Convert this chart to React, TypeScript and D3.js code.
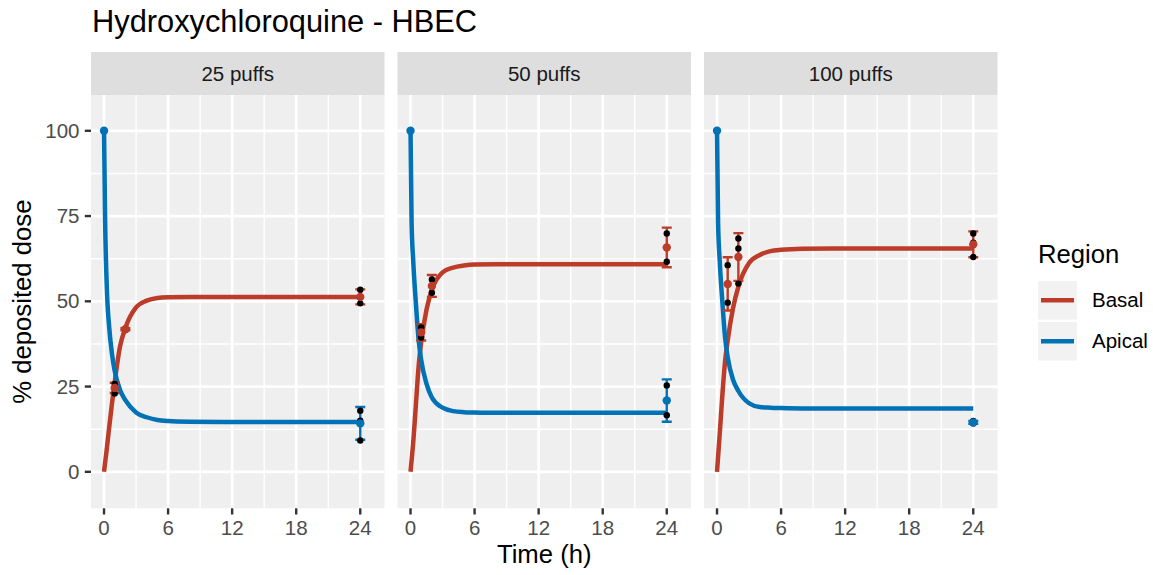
import React, { useEffect, useRef } from 'react';
import * as d3 from 'd3';

// facets and groups
const panels = ['25 puffs', '50 puffs', '100 puffs'];
const regions = ['Basal', 'Apical'];
const regionColors = ['#BC3C29', '#0072B5'];
const xTicks = [0, 6, 12, 18, 24];
const xMinor = [3, 9, 15, 21];
const yTicks = [0, 25, 50, 75, 100];
const yMinor = [12.5, 37.5, 62.5, 87.5];

// fitted model curves (one row per panel)
const curveTimes = [0, 0.1, 0.25, 0.5, 0.75, 1, 1.5, 2, 3, 4, 5, 6, 8, 12, 24];
const basalCurve = [
  [0, 2.6, 6.5, 13.5, 20.2, 26.3, 36.8, 42.2, 48.2, 50.2, 51, 51.2, 51.3, 51.3, 51.3],
  [0, 3.3, 8.5, 19.5, 30.6, 38, 47.6, 53.4, 58.5, 59.9, 60.5, 60.8, 60.9, 60.9, 60.9],
  [0, 4.4, 11, 22.5, 32.3, 38.5, 48, 54.3, 61.2, 63.6, 64.7, 65.1, 65.4, 65.5, 65.5],
];
const apicalCurve = [
  [100, 74, 55, 41.8, 34.5, 29.6, 24, 21, 17.4, 16, 15.2, 14.9, 14.7, 14.6, 14.6],
  [100, 73, 62, 49.5, 39, 32.8, 25.8, 21.8, 18.8, 17.8, 17.5, 17.4, 17.3, 17.3, 17.3],
  [100, 73, 62, 49.8, 39.5, 33.6, 27, 23.7, 20.1, 19, 18.8, 18.7, 18.6, 18.6, 18.6],
];

// observed means / sd
const basalTimes = [1, 2, 24];
const basalMean = [
  [24.6, 41.8, 51.3],
  [40.9, 54.5, 65.8],
  [55.1, 63.0, 66.7],
];
const basalSd = [
  [1.5, 0.3, 2.2],
  [2.4, 3.2, 5.8],
  [7.8, 7.0, 3.8],
];
const basalReps = [
  [[23.0, 25.8], [41.6, 42.0], [53.4, 51.1, 49.4]],
  [[42.3, 39.4], [56.4, 52.5], [69.9, 65.8, 61.6]],
  [[60.6, 49.6], [68.4, 65.5, 55.2], [69.9, 67.2, 63.0]],
];
const apicalTimes = [0, 24];
const apicalMean = [
  [100, 14.2],
  [100, 20.9],
  [100, 14.5],
];
const apicalSd = [
  [0, 4.8],
  [0, 6.2],
  [0, 0.4],
];
const apicalReps = [
  [[100, 100], [17.9, 15.0, 9.2]],
  [[100, 100], [25.3, 20.8, 16.6]],
  [[100, 100], [14.2, 14.5, 14.9]],
];

const W = 1153;
const H = 575;
const FONT = '"Liberation Sans", Arial, Helvetica, sans-serif';

const drawChart = (svg: d3.Selection<SVGSVGElement, unknown, null, undefined>) => {
  const panelW = 293.5;
  const panelGap = 13;
  const panelLeft0 = 91;
  const stripTop = 52;
  const panelTop = 95;
  const panelBottom = 508.3;

  const y = d3.scaleLinear().domain([-10.7, 110.5]).range([panelBottom, panelTop]);

  svg.append('rect').attr('width', W).attr('height', H).attr('fill', '#FFFFFF');

  // title
  svg.append('text')
    .attr('x', 92).attr('y', 32)
    .attr('font-size', 30.8).attr('font-family', FONT)
    .attr('fill', '#000')
    .text('Hydroxychloroquine - HBEC');

  const curves = [basalCurve, apicalCurve];
  const obsTimes = [basalTimes, apicalTimes];
  const obsMean = [basalMean, apicalMean];
  const obsSd = [basalSd, apicalSd];
  const obsReps = [basalReps, apicalReps];

  panels.forEach((name, i) => {
    const left = panelLeft0 + i * (panelW + panelGap);
    const right = left + panelW;
    const x = d3.scaleLinear().domain([-1.22, 26.27]).range([left, right]);
    const g = svg.append('g');

    // strip
    g.append('rect')
      .attr('x', left).attr('y', stripTop)
      .attr('width', panelW).attr('height', panelTop - stripTop)
      .attr('fill', '#DEDEDE');
    g.append('text')
      .attr('x', (left + right) / 2).attr('y', (stripTop + panelTop) / 2)
      .attr('dy', '0.35em')
      .attr('text-anchor', 'middle')
      .attr('font-size', 20.5).attr('font-family', FONT)
      .attr('fill', '#1A1A1A')
      .text(name);

    // panel background
    g.append('rect')
      .attr('x', left).attr('y', panelTop)
      .attr('width', panelW).attr('height', panelBottom - panelTop)
      .attr('fill', '#EFEFEF');

    // grid
    g.selectAll('.xminor').data(xMinor).enter().append('line')
      .attr('x1', d => x(d)).attr('x2', d => x(d))
      .attr('y1', panelTop).attr('y2', panelBottom)
      .attr('stroke', '#fff').attr('stroke-width', 1.4);
    g.selectAll('.yminor').data(yMinor).enter().append('line')
      .attr('x1', left).attr('x2', right)
      .attr('y1', d => y(d)).attr('y2', d => y(d))
      .attr('stroke', '#fff').attr('stroke-width', 1.4);
    g.selectAll('.xmajor').data(xTicks).enter().append('line')
      .attr('x1', d => x(d)).attr('x2', d => x(d))
      .attr('y1', panelTop).attr('y2', panelBottom)
      .attr('stroke', '#fff').attr('stroke-width', 2.7);
    g.selectAll('.ymajor').data(yTicks).enter().append('line')
      .attr('x1', left).attr('x2', right)
      .attr('y1', d => y(d)).attr('y2', d => y(d))
      .attr('stroke', '#fff').attr('stroke-width', 2.7);

    // clip
    const clipId = `clip-${i}`;
    g.append('clipPath').attr('id', clipId)
      .append('rect')
      .attr('x', left).attr('y', panelTop)
      .attr('width', panelW).attr('height', panelBottom - panelTop);
    const plot = g.append('g').attr('clip-path', `url(#${clipId})`);

    // fitted curves
    const line = d3.line<[number, number]>()
      .x(d => x(d[0]))
      .y(d => y(d[1]))
      .curve(d3.curveMonotoneX);
    regions.forEach((_, r) => {
      const pts = curveTimes.map((t, k) => [t, curves[r][i][k]] as [number, number]);
      plot.append('path')
        .attr('d', line(pts))
        .attr('fill', 'none')
        .attr('stroke', regionColors[r])
        .attr('stroke-width', 4.5);
    });

    // error bars
    regions.forEach((_, r) => {
      obsTimes[r].forEach((t, k) => {
        const m = obsMean[r][i][k];
        const s = obsSd[r][i][k];
        if (s <= 0) return;
        const cx = x(t);
        const y0 = y(m - s);
        const y1 = y(m + s);
        const eb = plot.append('g')
          .attr('stroke', regionColors[r])
          .attr('stroke-width', 2.4);
        eb.append('line').attr('x1', cx).attr('x2', cx).attr('y1', y0).attr('y2', y1);
        eb.append('line').attr('x1', cx - 5).attr('x2', cx + 5).attr('y1', y0).attr('y2', y0);
        eb.append('line').attr('x1', cx - 5).attr('x2', cx + 5).attr('y1', y1).attr('y2', y1);
      });
    });

    // individual replicates
    regions.forEach((_, r) => {
      obsTimes[r].forEach((t, k) => {
        obsReps[r][i][k].forEach(v => {
          plot.append('circle')
            .attr('cx', x(t)).attr('cy', y(v))
            .attr('r', 3.2)
            .attr('fill', '#000');
        });
      });
    });

    // means
    regions.forEach((_, r) => {
      obsTimes[r].forEach((t, k) => {
        plot.append('circle')
          .attr('cx', x(t)).attr('cy', y(obsMean[r][i][k]))
          .attr('r', 4.2)
          .attr('fill', regionColors[r]);
      });
    });

    // x axis
    const xa = g.append('g');
    xa.selectAll('line').data(xTicks).enter().append('line')
      .attr('x1', d => x(d)).attr('x2', d => x(d))
      .attr('y1', panelBottom).attr('y2', panelBottom + 6.2)
      .attr('stroke', '#333333').attr('stroke-width', 2.4);
    xa.selectAll('text').data(xTicks).enter().append('text')
      .attr('x', d => x(d)).attr('y', 535)
      .attr('text-anchor', 'middle')
      .attr('font-size', 20.5).attr('font-family', FONT)
      .attr('fill', '#4D4D4D')
      .text(d => d3.format('d')(d));
  });

  // y axis
  const ya = svg.append('g');
  ya.selectAll('line').data(yTicks).enter().append('line')
    .attr('x1', panelLeft0 - 6.2).attr('x2', panelLeft0)
    .attr('y1', d => y(d)).attr('y2', d => y(d))
    .attr('stroke', '#333333').attr('stroke-width', 2.4);
  ya.selectAll('text').data(yTicks).enter().append('text')
    .attr('x', 79.5).attr('y', d => y(d))
    .attr('dy', '0.35em')
    .attr('text-anchor', 'end')
    .attr('font-size', 20.5).attr('font-family', FONT)
    .attr('fill', '#4D4D4D')
    .text(d => d3.format('d')(d));

  // axis titles
  const fullLeft = panelLeft0;
  const fullRight = panelLeft0 + 3 * panelW + 2 * panelGap;
  svg.append('text')
    .attr('x', (fullLeft + fullRight) / 2).attr('y', 563)
    .attr('text-anchor', 'middle')
    .attr('font-size', 25.7).attr('font-family', FONT)
    .attr('fill', '#000')
    .text('Time (h)');
  svg.append('text')
    .attr('transform', `translate(31,${(panelTop + panelBottom) / 2}) rotate(-90)`)
    .attr('text-anchor', 'middle')
    .attr('font-size', 25.7).attr('font-family', FONT)
    .attr('fill', '#000')
    .text('% deposited dose');

  // legend
  const lg = svg.append('g');
  lg.append('text')
    .attr('x', 1038).attr('y', 263)
    .attr('font-size', 25.7).attr('font-family', FONT)
    .attr('fill', '#000')
    .text('Region');
  regions.forEach((name, r) => {
    const top = 281 + r * 41;
    lg.append('rect')
      .attr('x', 1038).attr('y', top)
      .attr('width', 39).attr('height', 38.5)
      .attr('fill', '#F2F2F2');
    lg.append('line')
      .attr('x1', 1041).attr('x2', 1074)
      .attr('y1', top + 19.25).attr('y2', top + 19.25)
      .attr('stroke', regionColors[r]).attr('stroke-width', 4.5);
    lg.append('text')
      .attr('x', 1092).attr('y', top + 19.25)
      .attr('dy', '0.35em')
      .attr('font-size', 20.5).attr('font-family', FONT)
      .attr('fill', '#000')
      .text(name);
  });
};

export default function App() {
  const ref = useRef<SVGSVGElement>(null);

  useEffect(() => {
    if (!ref.current) return;
    const svg = d3.select(ref.current);
    svg.selectAll('*').remove();
    drawChart(svg);
  }, []);

  return (
    <svg
      ref={ref}
      width={W}
      height={H}
      style={{ position: 'absolute', left: 0, top: 0, display: 'block' }}
    />
  );
}
